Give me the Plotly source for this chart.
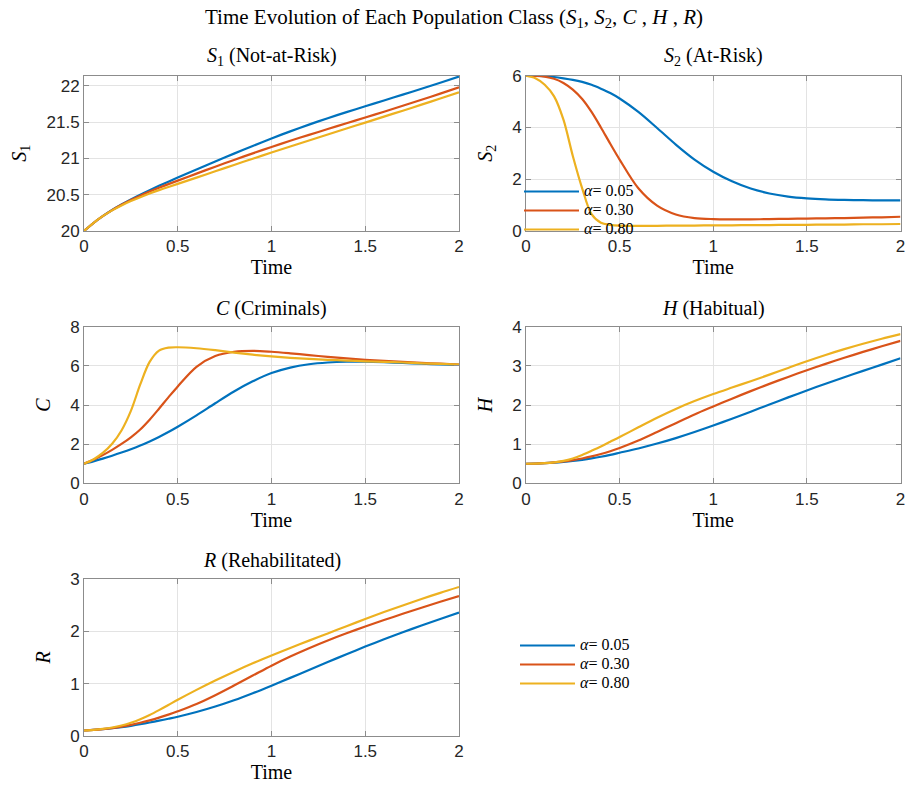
import plotly.graph_objects as go

# Time grid (shared by all solutions)
t = [0, 0.05, 0.1, 0.15, 0.2, 0.25, 0.3, 0.35, 0.4, 0.45, 0.5,
     0.6, 0.7, 0.8, 0.9, 1.0, 1.1, 1.2, 1.3, 1.4, 1.5, 1.6, 1.7, 1.8, 1.9, 2.0]

alphas = ["0.05", "0.30", "0.80"]
colors = ["#0072BD", "#D95319", "#EDB120"]

# S1: not-at-risk population
S1_a005 = [20, 20.11, 20.205, 20.29, 20.365, 20.435, 20.5, 20.562, 20.622, 20.68, 20.736,
           20.848, 20.958, 21.066, 21.172, 21.275, 21.373, 21.466, 21.554, 21.638, 21.719,
           21.799, 21.879, 21.96, 22.043, 22.129]
S1_a030 = [20, 20.11, 20.205, 20.288, 20.361, 20.427, 20.487, 20.543, 20.596, 20.646, 20.694,
           20.791, 20.886, 20.979, 21.07, 21.158, 21.243, 21.325, 21.405, 21.484, 21.564,
           21.644, 21.725, 21.808, 21.893, 21.98]
S1_a080 = [20, 20.11, 20.204, 20.284, 20.352, 20.412, 20.466, 20.516, 20.563, 20.607, 20.649,
           20.736, 20.823, 20.91, 20.996, 21.081, 21.165, 21.248, 21.33, 21.412, 21.494,
           21.576, 21.658, 21.741, 21.825, 21.91]

# S2: at-risk population
S2_a005 = [6, 6.0, 5.98, 5.95, 5.9, 5.84, 5.76, 5.65, 5.5, 5.33, 5.12,
           4.6, 3.98, 3.34, 2.76, 2.29, 1.92, 1.64, 1.45, 1.33, 1.26,
           1.22, 1.2, 1.19, 1.18, 1.18]
S2_a030 = [6, 5.99, 5.96, 5.88, 5.72, 5.46, 5.1, 4.6, 4.0, 3.37, 2.76,
           1.65, 0.98, 0.64, 0.5, 0.46, 0.45, 0.45, 0.46, 0.47, 0.48,
           0.49, 0.5, 0.52, 0.53, 0.55]
S2_a080 = [6, 5.9, 5.65, 5.2, 4.3, 2.9, 1.65, 0.65, 0.32, 0.24, 0.21,
           0.2, 0.2, 0.21, 0.21, 0.22, 0.22, 0.23, 0.23, 0.24, 0.24,
           0.25, 0.25, 0.26, 0.26, 0.27]

# C: criminals
C_a005 = [1, 1.12, 1.26, 1.41, 1.57, 1.74, 1.93, 2.14, 2.37, 2.62, 2.89,
          3.47, 4.09, 4.69, 5.21, 5.63, 5.91, 6.08, 6.17, 6.21, 6.21,
          6.185, 6.15, 6.11, 6.075, 6.045]
C_a030 = [1, 1.2, 1.44, 1.71, 2.01, 2.35, 2.75, 3.25, 3.81, 4.39, 4.95,
          5.95, 6.5, 6.72, 6.77, 6.72, 6.64, 6.55, 6.46, 6.38, 6.31,
          6.25, 6.2, 6.15, 6.11, 6.07]
C_a080 = [1, 1.22, 1.55, 2.02, 2.7, 3.7, 5.05, 6.2, 6.78, 6.93, 6.95,
          6.9, 6.8, 6.68, 6.57, 6.48, 6.41, 6.36, 6.31, 6.27, 6.23,
          6.2, 6.17, 6.13, 6.1, 6.07]

# H: habitual offenders
H_a005 = [0.5, 0.504, 0.513, 0.527, 0.546, 0.57, 0.6, 0.636, 0.678, 0.726, 0.78,
          0.89, 1.015, 1.155, 1.31, 1.475, 1.65, 1.83, 2.012, 2.194, 2.372,
          2.544, 2.71, 2.872, 3.032, 3.192]
H_a030 = [0.5, 0.505, 0.516, 0.534, 0.559, 0.592, 0.634, 0.686, 0.748, 0.82, 0.902,
          1.092, 1.312, 1.537, 1.757, 1.962, 2.162, 2.354, 2.539, 2.717, 2.887,
          3.05, 3.206, 3.356, 3.5, 3.638]
H_a080 = [0.5, 0.504, 0.515, 0.536, 0.572, 0.635, 0.725, 0.83, 0.94, 1.06, 1.18,
          1.43, 1.675, 1.9, 2.1, 2.28, 2.445, 2.607, 2.775, 2.947, 3.119,
          3.279, 3.427, 3.565, 3.693, 3.811]

# R: rehabilitated
R_a005 = [0.1, 0.112, 0.126, 0.143, 0.164, 0.19, 0.22, 0.253, 0.288, 0.325, 0.364,
          0.454, 0.559, 0.679, 0.814, 0.959, 1.109, 1.261, 1.413, 1.563, 1.709,
          1.849, 1.984, 2.114, 2.24, 2.362]
R_a030 = [0.1, 0.112, 0.127, 0.147, 0.173, 0.208, 0.248, 0.294, 0.346, 0.404, 0.468,
          0.608, 0.778, 0.963, 1.153, 1.343, 1.518, 1.678, 1.826, 1.964, 2.094,
          2.218, 2.338, 2.455, 2.569, 2.68]
R_a080 = [0.1, 0.112, 0.13, 0.157, 0.195, 0.247, 0.315, 0.398, 0.491, 0.589, 0.689,
          0.879, 1.059, 1.229, 1.389, 1.539, 1.684, 1.824, 1.962, 2.1, 2.238,
          2.371, 2.499, 2.622, 2.74, 2.853]

panels = [
    ("<i>S</i><sub>1</sub> (Not-at-Risk)", "<i>S</i><sub>1</sub>", [S1_a005, S1_a030, S1_a080],
     [20, 22.14], [20, 20.5, 21, 21.5, 22], ["20", "20.5", "21", "21.5", "22"]),
    ("<i>S</i><sub>2</sub> (At-Risk)", "<i>S</i><sub>2</sub>", [S2_a005, S2_a030, S2_a080],
     [0, 6], [0, 2, 4, 6], ["0", "2", "4", "6"]),
    ("<i>C</i> (Criminals)", "<i>C</i>", [C_a005, C_a030, C_a080],
     [0, 8], [0, 2, 4, 6, 8], ["0", "2", "4", "6", "8"]),
    ("<i>H</i> (Habitual)", "<i>H</i>", [H_a005, H_a030, H_a080],
     [0, 4], [0, 1, 2, 3, 4], ["0", "1", "2", "3", "4"]),
    ("<i>R</i> (Rehabilitated)", "<i>R</i>", [R_a005, R_a030, R_a080],
     [0, 3], [0, 1, 2, 3], ["0", "1", "2", "3"]),
]

W, H = 907, 789
SERIF = "Liberation Serif, Times New Roman, serif"
SANS = "Liberation Sans, Arial, sans-serif"

# panel boxes in pixels: (left, right, top, bottom)
boxes = [(84, 459, 75.7, 231), (526, 900.5, 75.7, 231),
         (84, 459, 326.7, 483.3), (526, 900.5, 326.7, 483.3),
         (84, 459, 579.3, 735.7)]

fig = go.Figure()
layout = dict(
    template="none",
    width=W, height=H, margin=dict(l=0, r=0, t=0, b=0, autoexpand=False),
    paper_bgcolor="white", plot_bgcolor="white",
    showlegend=True, annotations=[],
)

axis_common = dict(
    showline=True, linecolor="#8c8c8c", linewidth=1, mirror="ticks",
    ticks="inside", ticklen=5, tickcolor="#8c8c8c", automargin=False,
    showgrid=True, gridcolor="#e3e3e3", gridwidth=1, zeroline=False,
    tickfont=dict(family=SANS, size=17, color="#262626"),
)

for i, (title, ylab, series, yr, yt, ytt) in enumerate(panels):
    n = i + 1
    xa = "x" if n == 1 else f"x{n}"
    ya = "y" if n == 1 else f"y{n}"
    l, r, tp, bt = boxes[i]
    for j, ys in enumerate(series):
        if n == 2:
            legend_id, show = "legend", True
        elif n == 5:
            legend_id, show = "legend2", True
        else:
            legend_id, show = "legend", False
        fig.add_trace(go.Scatter(
            x=t, y=ys, mode="lines", xaxis=xa, yaxis=ya,
            line=dict(color=colors[j], width=2.2, shape="spline", smoothing=0.9),
            name=f'<span style="font-size:16px"><i>α</i>= {alphas[j]}</span>',
            showlegend=show, legend=legend_id, hoverinfo="skip",
        ))
    key = "" if n == 1 else str(n)
    layout["xaxis" + key] = dict(
        axis_common, domain=[l / W, r / W], range=[0, 2], anchor=ya,
        tickvals=[0, 0.5, 1, 1.5, 2], ticktext=["0", "0.5", "1", "1.5", "2"],
        title=dict(text="Time", font=dict(family=SERIF, size=20, color="#000"), standoff=4),
    )
    layout["yaxis" + key] = dict(
        axis_common, domain=[1 - bt / H, 1 - tp / H], range=yr, anchor=xa,
        tickvals=yt, ticktext=ytt,
        title=dict(text=ylab, font=dict(family=SERIF, size=20, color="#000"), standoff=14),
    )
    layout["annotations"].append(dict(
        text=title, x=(l + r) / 2 / W, y=1 - (tp - 5) / H, xref="paper", yref="paper",
        xanchor="center", yanchor="bottom", showarrow=False,
        font=dict(family=SERIF, size=20, color="#000"),
    ))

layout["annotations"].append(dict(
    text="Time Evolution of Each Population Class (<i>S</i><sub>1</sub>, <i>S</i><sub>2</sub>, "
         "<i>C</i> , <i>H</i> , <i>R</i>)",
    x=0.5, y=1 - 18 / H, xref="paper", yref="paper", xanchor="center", yanchor="middle",
    showarrow=False, font=dict(family=SERIF, size=21, color="#000"),
))

legend_common = dict(
    bgcolor="rgba(0,0,0,0)", borderwidth=0, tracegroupgap=0,
    font=dict(family=SERIF, size=12.3, color="#000"), itemwidth=55,
    xanchor="left", yanchor="top", traceorder="normal",
)
layout["legend"] = dict(legend_common, x=519 / W, y=1 - 177 / H)
layout["legend2"] = dict(legend_common, x=515 / W, y=1 - 631 / H)

fig.update_layout(**layout)
fig.write_html("out.html")
